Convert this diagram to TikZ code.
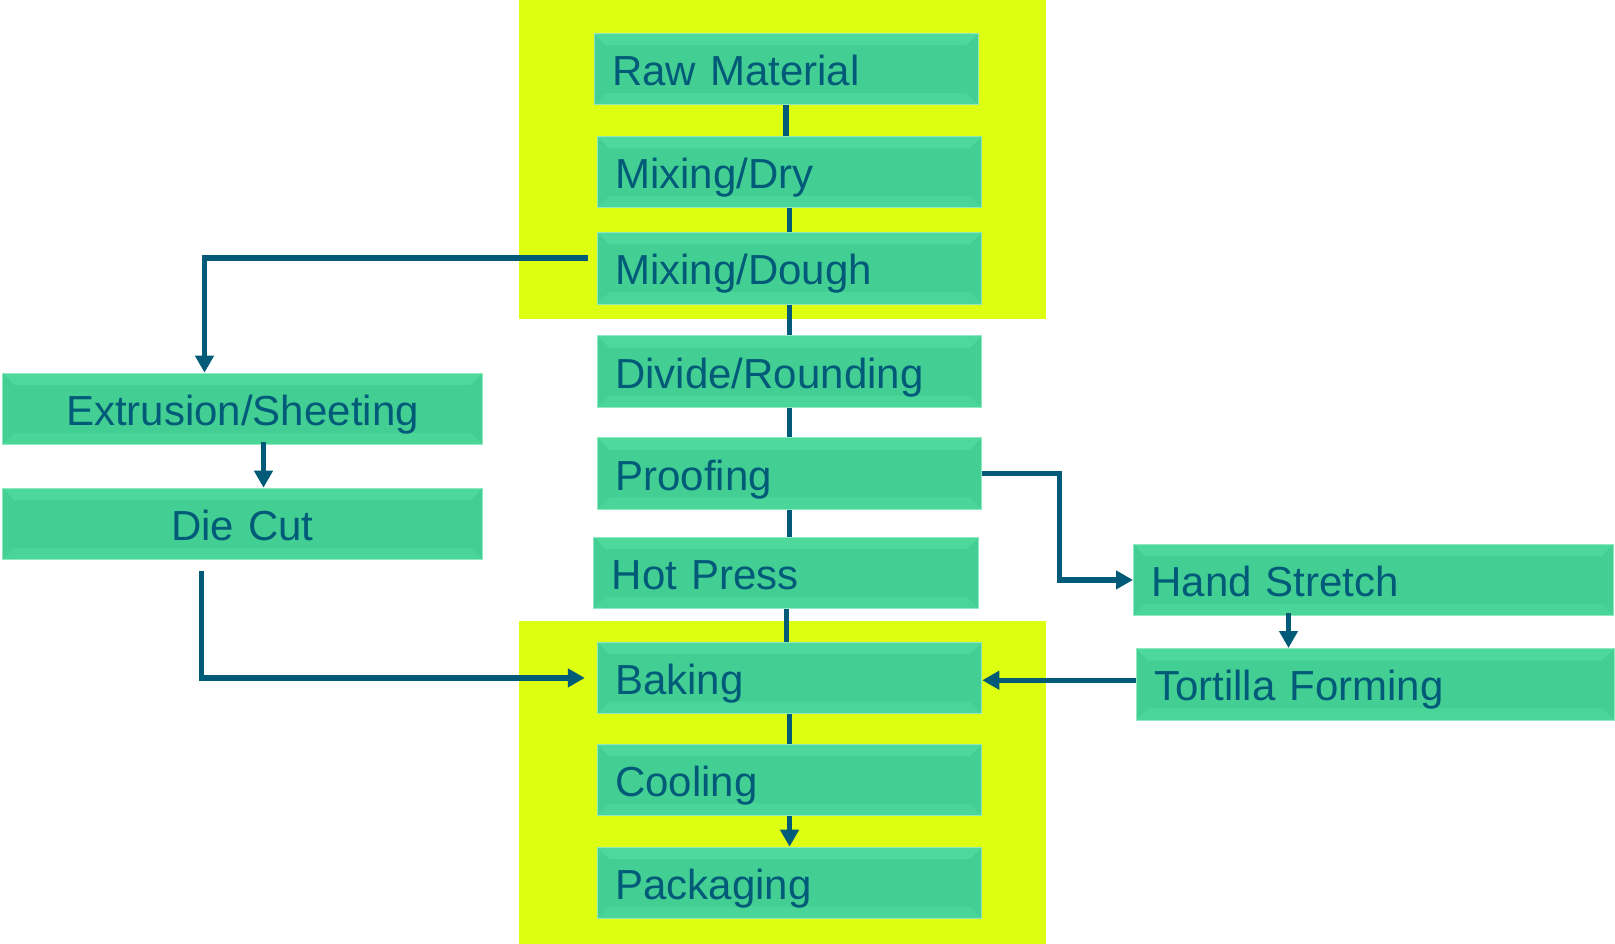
\documentclass[tikz,border=0pt]{standalone}
\usepackage{fontspec}
\setmainfont{Liberation Sans}
\usetikzlibrary{arrows.meta}
\definecolor{yell}{HTML}{DDFF11}
\definecolor{boxfill}{HTML}{43CF93}
\definecolor{bevtop}{HTML}{4CD99B}
\definecolor{bevbot}{HTML}{49D698}
\definecolor{boxline}{HTML}{8EE8C0}
\definecolor{ink}{HTML}{005A78}
\tikzset{
  box/.style={draw=boxline, line width=1pt, fill=boxfill, anchor=north west,
    minimum height=71.5pt, inner xsep=18pt, inner ysep=0pt,
    text height=33pt, text depth=0pt, align=left, text=ink,
    font=\fontsize{42}{50}\selectfont,
    path picture={
      \fill[bevtop] (path picture bounding box.north west) -- (path picture bounding box.north east)
        -- ([shift={(-12pt,-12pt)}]path picture bounding box.north east)
        -- ([shift={(12pt,-12pt)}]path picture bounding box.north west) -- cycle;
      \fill[bevbot] (path picture bounding box.south west) -- (path picture bounding box.south east)
        -- ([shift={(-12pt,12pt)}]path picture bounding box.south east)
        -- ([shift={(12pt,12pt)}]path picture bounding box.south west) -- cycle;
    }},
  cbox/.style={box, align=center},
  conn/.style={draw=ink, line width=5.5pt},
  arr/.style={conn, -{Triangle[length=17pt,width=18pt]}}
}
\begin{document}
\begin{tikzpicture}[x=1pt,y=-1pt]
\useasboundingbox (0,0) rectangle (1615,944);
% yellow backgrounds
\fill[yell] (519,0) rectangle (1046,319);
\fill[yell] (519,621) rectangle (1046,944);
% boxes
\node[box, text width=348pt] (raw) at (593.6,33) {Raw Material};
\node[box, text width=348.5pt] (dry) at (596.8,136) {Mixing/Dry};
\node[box, text width=348.5pt] (dough) at (596.8,232) {Mixing/Dough};
\node[box, text width=348.5pt] (divide) at (596.8,335.3) {Divide/Rounding};
\node[box, text width=348.5pt] (proof) at (596.8,437.3) {Proofing};
\node[box, text width=349pt] (hot) at (593.3,536.7) {Hot Press};
\node[box, text width=348.5pt] (bake) at (596.8,641.7) {Baking};
\node[box, text width=348.5pt] (cool) at (596.8,743.7) {Cooling};
\node[box, text width=348.5pt] (pack) at (596.8,846.7) {Packaging};
\node[cbox, text width=444pt] (extr) at (2,372.7) {Extrusion/Sheeting};
\node[cbox, text width=444pt] (die) at (2,487.7) {Die Cut};
\node[box, text width=444pt] (hand) at (1133,543.7) {Hand Stretch};
\node[box, text width=442pt] (tort) at (1135.7,648) {Tortilla Forming};
% connectors (main column)
\draw[conn] (raw.south) -- (raw.south |- dry.north);
\draw[conn] (dry.south) -- (dry.south |- dough.north);
\draw[conn] (dough.south) -- (dough.south |- divide.north);
\draw[conn] (divide.south) -- (divide.south |- proof.north);
\draw[conn] (proof.south) -- (proof.south |- hot.north);
\draw[conn] (hot.south) -- (hot.south |- bake.north);
\draw[conn] (bake.south) -- (bake.south |- cool.north);
\draw[arr] (cool.south) -- (cool.south |- pack.north);
% left branch
\coordinate (dgout) at ([shift={(-9pt,10pt)}]dough.west);
\draw[arr] (dgout) -| ([xshift=-38pt]extr.north);
\draw[arr] ([shift={(21pt,3pt)}]extr.south) -- ([xshift=21pt]die.north);
\coordinate (dcout) at ([shift={(-41pt,-11pt)}]die.south);
\draw[arr] (dcout) |- ([xshift=-12pt]bake.west);
% right branch
\draw[arr] (proof.east) -- ++(77,0) |- (hand.west);
\draw[arr] ([shift={(-85pt,3pt)}]hand.south) -- ([xshift=-85pt]hand.south |- tort.north);
\draw[arr] ([yshift=4pt]tort.west) -- ([yshift=4pt]tort.west -| bake.east);
\end{tikzpicture}
\end{document}
